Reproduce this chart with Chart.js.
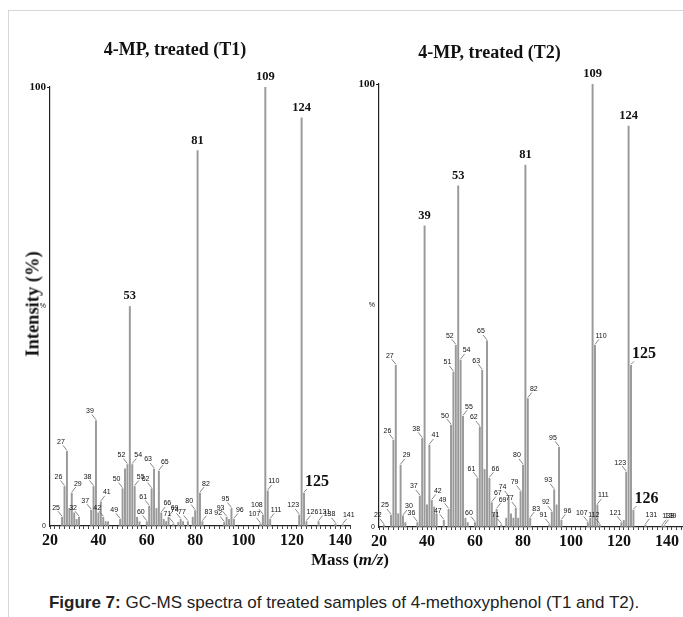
<!DOCTYPE html>
<html>
<head>
<meta charset="utf-8">
<script src="https://cdn.jsdelivr.net/npm/chart.js@4.4.1/dist/chart.umd.min.js"></script>
<style>
html, body { margin: 0; padding: 0; background: #fff; overflow: hidden; width: 683px; height: 617px; }
#frame { position: absolute; left: 8px; top: 10px; right: -2px; bottom: -2px; border-top: 1px solid #d6d6d6; border-left: 1px solid #d6d6d6; }
#box1 { position: absolute; left: 0; top: 25px; width: 356px; height: 531px; }
#box2 { position: absolute; left: 288px; top: 25px; width: 412px; height: 532px; }
#ylab { position: absolute; left: 33px; top: 304px; transform: translate(-50%, -50%) rotate(-90deg); white-space: nowrap;
        font: bold 18.5px "Liberation Serif", "Times New Roman", serif; color: #111; }
#xlab { position: absolute; left: 350px; top: 560px; transform: translate(-50%, -50%); white-space: nowrap;
        font: bold 17px "Liberation Serif", "Times New Roman", serif; color: #111; }
#caption { position: absolute; left: 344px; top: 603px; transform: translate(-50%, -50%); white-space: nowrap;
           font: 17px "Liberation Sans", Arial, sans-serif; color: #222; }
</style>
</head>
<body>
<div id="frame"></div>
<div id="box1"><canvas id="chartT1"></canvas></div>
<div id="box2"><canvas id="chartT2"></canvas></div>
<div id="ylab">Intensity (%)</div>
<div id="xlab">Mass (<i>m/z</i>)</div>
<div id="caption"><b>Figure 7:</b> GC-MS spectra of treated samples of 4-methoxyphenol (T1 and T2).</div>
<script>
// T1 spectrum
var t1Mass = [25, 26, 27, 28, 29, 30, 31, 32, 37, 38, 39, 40, 41, 42, 43, 44, 49, 50, 51, 52, 53, 54, 55, 56, 57,
              60, 61, 62, 63, 64, 65, 66, 67, 68, 69, 71, 73, 74, 75, 77, 79, 80, 81, 82, 83, 92, 93, 94, 95, 96,
              107, 108, 109, 110, 111, 123, 124, 125, 126, 131, 138, 141];
var t1Intensity = [2, 9, 17, 4, 7.5, 3, 1.5, 2, 3.6, 9, 24, 3, 5.5, 2, 1, 1, 1.5, 8.5, 13, 14, 50, 14, 9, 2, 1,
                   1, 4.5, 8.5, 13, 4, 12.5, 3, 1.5, 1, 2, 0.5, 0.8, 1.5, 1, 1, 2, 3.5, 85.5, 7.5, 1, 0.8, 2, 1.5, 4, 1.5,
                   0.5, 2.5, 100, 8, 1.5, 2.5, 93, 7.5, 1, 1, 0.5, 0.3];
var t1Labeled = [25, 26, 27, 29, 32, 37, 38, 39, 41, 42, 49, 50, 52, 53, 54, 55, 60, 61, 62, 63, 65, 66, 69, 71,
                 74, 77, 80, 81, 82, 83, 92, 93, 95, 96, 107, 108, 109, 110, 111, 123, 124, 125, 126, 131, 138, 141];
var t1Major = [53, 81, 109, 124];
var t1Big = [125];

// T2 spectrum
var t2Mass = [22, 25, 26, 27, 28, 29, 30, 31, 36, 37, 38, 39, 40, 41, 42, 43, 44, 47, 49, 50, 51, 52, 53, 54, 55,
              56, 57, 60, 61, 62, 63, 64, 65, 66, 67, 68, 69, 71, 73, 74, 75, 76, 77, 78, 79, 80, 81, 82, 83,
              91, 92, 93, 94, 95, 96, 107, 108, 109, 110, 111, 112, 121, 122, 123, 124, 125, 126, 131, 138, 139];
var t2Intensity = [0.5, 2.7, 19.6, 36.5, 3, 14, 2.5, 1, 1, 7, 20, 68, 5, 18.5, 6, 4.5, 3, 1.5, 4, 23, 35, 41, 77, 37.7, 25,
                   2, 1, 1, 11, 22.6, 35.4, 13, 42, 11, 5.5, 3, 4, 0.5, 2, 6.8, 3, 2, 4.3, 2, 8, 14, 81.7, 29, 2,
                   0.5, 3.4, 8.4, 5, 18, 1.5, 1, 2, 100, 41, 5, 0.5, 1, 1.5, 12.4, 90.5, 36.5, 3.8, 0.5, 0.3, 0.3];
var t2Labeled = [22, 25, 26, 27, 29, 30, 36, 37, 38, 39, 41, 42, 47, 49, 50, 51, 52, 53, 54, 55, 60, 61, 62, 63, 65,
                 66, 67, 69, 71, 74, 77, 79, 80, 81, 82, 83, 91, 92, 93, 95, 96, 107, 109, 110, 111, 112, 121, 123,
                 124, 125, 126, 131, 138, 139];
var t2Major = [39, 53, 81, 109, 124];
var t2Big = [125, 126];

// labels that sit to the right of their peak
var t1Right = [29, 41, 54, 55, 65, 66, 69, 82, 83, 96, 110, 111, 126, 131, 141];
var t2Right = [29, 30, 41, 42, 54, 55, 66, 67, 69, 82, 83, 96, 110, 111, 131, 138, 139];

var peakLabels = {
    id: 'peakLabels',
    afterDatasetsDraw: function (chart) {
        var o = chart.options.plugins.peakLabels;
        var ctx = chart.ctx;
        var xs = chart.scales.x, ys = chart.scales.y;
        ctx.save();
        o.mass.forEach(function (m, i) {
            if (o.labeled.indexOf(m) < 0) return;
            var x = xs.getPixelForValue(m);
            var y = ys.getPixelForValue(o.intensity[i]);
            ctx.fillStyle = '#111';
            if (o.major.indexOf(m) >= 0) {
                ctx.font = 'bold 12.5px "Liberation Serif", serif';
                ctx.textAlign = 'center';
                ctx.textBaseline = 'bottom';
                ctx.fillText(String(m), x, y - 4);
            } else if (o.big.indexOf(m) >= 0) {
                ctx.font = 'bold 16px "Liberation Serif", serif';
                ctx.textAlign = 'left';
                ctx.textBaseline = 'bottom';
                ctx.fillText(String(m), x + 1, y - 3);
                ctx.strokeStyle = '#555';
                ctx.lineWidth = 0.7;
                ctx.beginPath();
                ctx.moveTo(x + 3, y - 4);
                ctx.lineTo(x, y - 1);
                ctx.stroke();
            } else {
                var dir = o.right.indexOf(m) >= 0 ? 1 : -1;
                ctx.font = '7px "Liberation Sans", Arial, sans-serif';
                ctx.textAlign = 'center';
                ctx.textBaseline = 'bottom';
                ctx.fillText(String(m), x + dir * 6, y - 6);
                ctx.strokeStyle = '#555';
                ctx.lineWidth = 0.7;
                ctx.beginPath();
                ctx.moveTo(x + dir * 4, y - 6);
                ctx.lineTo(x, y - 1);
                ctx.stroke();
            }
        });
        ctx.restore();
    }
};

function makeChart(id, mass, intensity, labeled, major, big, right, cfg) {
    return new Chart(id, {
        type: 'bar',
        data: {
            datasets: [{
                data: mass.map(function (m, i) { return { x: m, y: intensity[i] }; }),
                backgroundColor: '#9a9a9a',
                borderWidth: 0,
                barThickness: 1.3
            }]
        },
        plugins: [peakLabels],
        options: {
            responsive: true,
            maintainAspectRatio: false,
            animation: false,
            layout: { padding: { left: 0, right: cfg.padRight, top: 0, bottom: 0 } },
            plugins: {
                legend: { display: false },
                tooltip: { enabled: false },
                title: {
                    display: true,
                    text: cfg.title,
                    color: '#111',
                    font: { family: '"Liberation Serif", "Times New Roman", serif', size: 18, weight: 'bold', lineHeight: 1.2 },
                    padding: { top: cfg.titleTop, bottom: cfg.titleBottom }
                },
                peakLabels: { mass: mass, intensity: intensity, labeled: labeled, major: major, big: big, right: right }
            },
            scales: {
                x: {
                    type: 'linear',
                    min: 20,
                    max: cfg.xMax,
                    offset: false,
                    afterFit: function (s) { s.height = 30; },
                    border: { display: true, color: '#222', width: 1.2 },
                    grid: { display: true, offset: false, drawOnChartArea: false, drawTicks: true, tickLength: 3, color: '#444' },
                    ticks: {
                        stepSize: 2,
                        autoSkip: false,
                        maxRotation: 0,
                        padding: 2,
                        color: '#111',
                        font: { family: '"Liberation Serif", "Times New Roman", serif', size: 16, weight: 'bold' },
                        callback: function (v) { return v % 20 === 0 && v <= 140 ? String(v) : ''; }
                    }
                },
                y: {
                    min: 0,
                    max: 100,
                    afterFit: function (s) { s.width = cfg.yWidth; },
                    border: { display: true, color: '#222', width: 1.2 },
                    grid: {
                        drawOnChartArea: false,
                        drawTicks: true,
                        tickLength: 3,
                        color: function (c) { return c.tick && c.tick.value === 100 ? '#222' : 'rgba(0,0,0,0)'; }
                    },
                    ticks: {
                        stepSize: 50,
                        padding: 1,
                        color: '#111',
                        font: function (c) {
                            if (c.tick && c.tick.value === 100) {
                                return { family: '"Liberation Serif", serif', size: 11, weight: 'bold' };
                            }
                            return { family: '"Liberation Sans", Arial, sans-serif', size: 7 };
                        },
                        callback: function (v) { return v === 100 ? '100' : v === 50 ? '%' : '0'; }
                    }
                }
            }
        }
    });
}

makeChart('chartT1', t1Mass, t1Intensity, t1Labeled, t1Major, t1Big, t1Right,
    { title: '4-MP, treated (T1)', xMax: 144, yWidth: 50, padRight: 6, titleTop: 14.2, titleBottom: 26.2 });
makeChart('chartT2', t2Mass, t2Intensity, t2Labeled, t2Major, t2Big, t2Right,
    { title: '4-MP, treated (T2)', xMax: 150, yWidth: 91, padRight: 9, titleTop: 17.2, titleBottom: 20.2 });
</script>
</body>
</html>
